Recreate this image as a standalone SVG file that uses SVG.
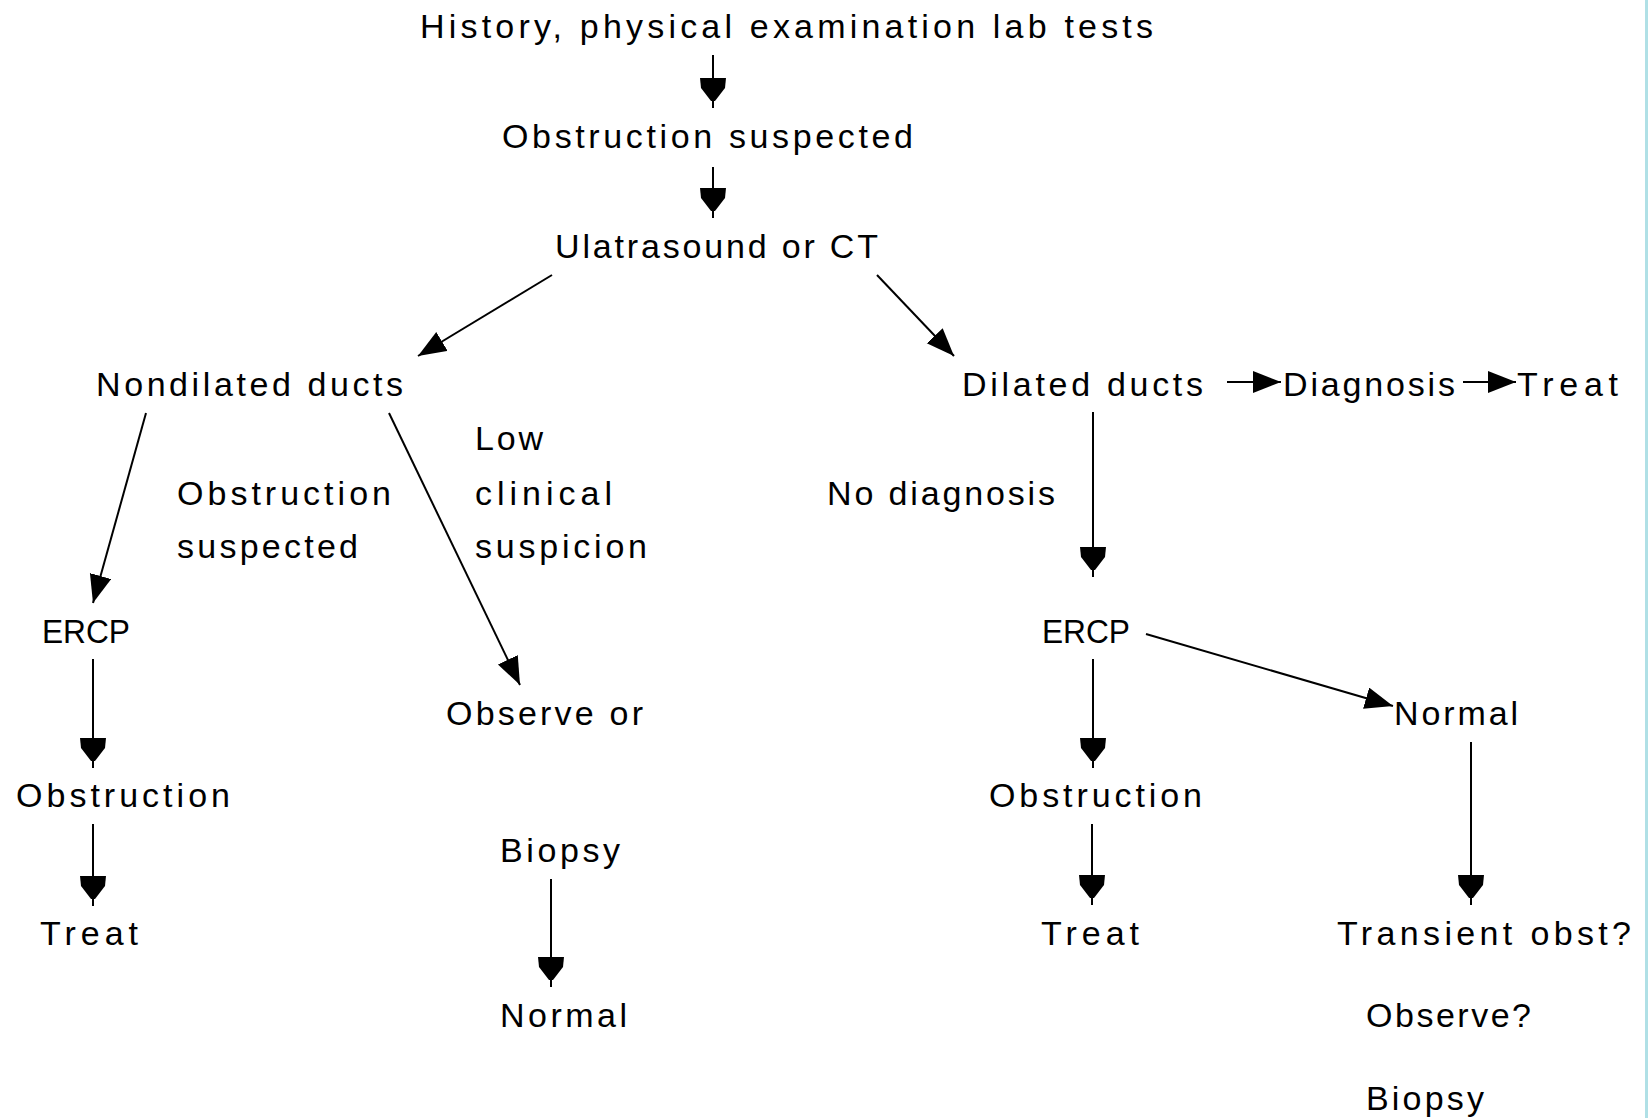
<svg xmlns="http://www.w3.org/2000/svg" width="1648" height="1118" viewBox="0 0 1648 1118">
  <style>
    text { font-family: "Liberation Sans", Arial, sans-serif; font-size: 34px; fill: #000; }
    .c line { stroke: #000; stroke-width: 2; fill: none; }
    .c .v { marker-end: url(#av); }
    .c .h { marker-end: url(#ah); }
  </style>
  <defs>
    <marker id="av" markerUnits="userSpaceOnUse" markerWidth="32" markerHeight="28" refX="30" refY="13" orient="auto">
      <path d="M0,0 L10,1 L23,11 L23,15 L10,25 L0,26 Z" fill="#000"/>
    </marker>
    <marker id="ah" markerUnits="userSpaceOnUse" markerWidth="30" markerHeight="24" refX="28" refY="11" orient="auto">
      <path d="M0,0 L28,11 L0,22 Z" fill="#000"/>
    </marker>
  </defs>
  <rect x="0" y="0" width="1648" height="1118" fill="#fff"/>
  <rect x="1645" y="0" width="3" height="1118" fill="#b0e0e6"/>

  <g class="c" id="connectors">
    <line class="v" x1="713" y1="55" x2="713" y2="108"/>
    <line class="v" x1="713" y1="167" x2="713" y2="218"/>
    <line class="h" x1="552" y1="275" x2="418" y2="356"/>
    <line class="h" x1="877" y1="275" x2="954" y2="356"/>
    <line class="h" x1="146" y1="413" x2="93" y2="603"/>
    <line class="h" x1="389" y1="413" x2="520" y2="685"/>
    <line class="h" x1="1227" y1="382" x2="1281" y2="382"/>
    <line class="h" x1="1463" y1="382" x2="1516" y2="382"/>
    <line class="v" x1="1093" y1="412" x2="1093" y2="577"/>
    <line class="h" x1="1146" y1="634" x2="1393" y2="706"/>
    <line class="v" x1="1093" y1="659" x2="1093" y2="768"/>
    <line class="v" x1="93" y1="659" x2="93" y2="768"/>
    <line class="v" x1="93" y1="824" x2="93" y2="906"/>
    <line class="v" x1="1092" y1="824" x2="1092" y2="905"/>
    <line class="v" x1="1471" y1="742" x2="1471" y2="905"/>
    <line class="v" x1="551" y1="879" x2="551" y2="987"/>
  </g>

  <g id="history"><text x="420" y="38" textLength="733">History, physical examination lab tests</text></g>
  <g id="obstruction-suspected"><text x="502" y="148" textLength="411">Obstruction suspected</text></g>
  <g id="ultrasound"><text x="555" y="258" textLength="323">Ulatrasound or CT</text></g>
  <g id="nondilated"><text x="96" y="396" textLength="307">Nondilated ducts</text></g>
  <g id="dilated"><text x="962" y="396" textLength="241">Dilated ducts</text></g>
  <g id="diagnosis"><text x="1283" y="396" textLength="172">Diagnosis</text></g>
  <g id="treat-top"><text x="1517" y="396" textLength="101">Treat</text></g>
  <g id="label-low">
    <text x="475" y="450" textLength="68">Low</text>
    <text x="475" y="505" textLength="137">clinical</text>
    <text x="475" y="558" textLength="172">suspicion</text>
  </g>
  <g id="label-obstruction">
    <text x="177" y="505" textLength="214">Obstruction</text>
    <text x="177" y="558" textLength="181">suspected</text>
  </g>
  <g id="label-nodiagnosis"><text x="827" y="505" textLength="228">No diagnosis</text></g>
  <g id="ercp-left"><text x="42" y="643" textLength="88" lengthAdjust="spacingAndGlyphs">ERCP</text></g>
  <g id="ercp-right"><text x="1042" y="643" textLength="88" lengthAdjust="spacingAndGlyphs">ERCP</text></g>
  <g id="observe-or"><text x="446" y="725" textLength="197">Observe or</text></g>
  <g id="normal-right"><text x="1394" y="725" textLength="124">Normal</text></g>
  <g id="obstruction-left"><text x="16" y="807" textLength="214">Obstruction</text></g>
  <g id="obstruction-right"><text x="989" y="807" textLength="213">Obstruction</text></g>
  <g id="biopsy-mid"><text x="500" y="862" textLength="120">Biopsy</text></g>
  <g id="treat-left"><text x="40" y="945" textLength="98">Treat</text></g>
  <g id="treat-right"><text x="1041" y="945" textLength="98">Treat</text></g>
  <g id="transient"><text x="1337" y="945" textLength="294">Transient obst?</text></g>
  <g id="normal-mid"><text x="500" y="1027" textLength="127">Normal</text></g>
  <g id="observe-q"><text x="1366" y="1027" textLength="165">Observe?</text></g>
  <g id="biopsy-right"><text x="1366" y="1110" textLength="118">Biopsy</text></g>
</svg>
